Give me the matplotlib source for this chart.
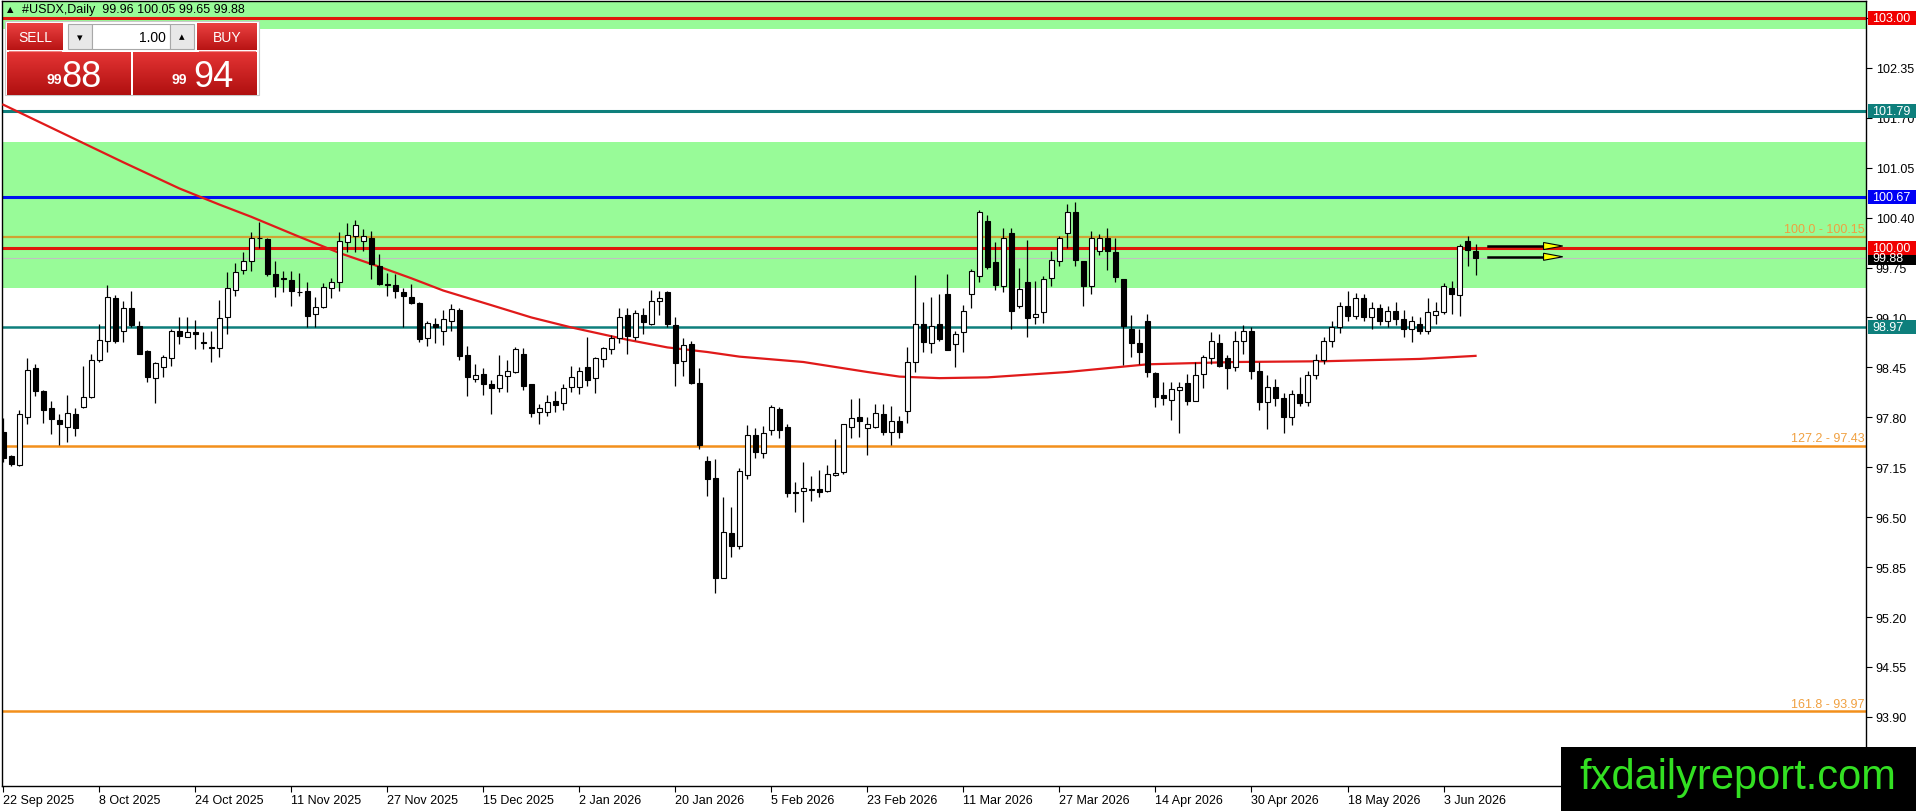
import numpy as np
import matplotlib
matplotlib.use('Agg')
import matplotlib.pyplot as plt
import matplotlib.colors as mcolors
from matplotlib.patches import Rectangle, Polygon

plt.rcParams['font.family'] = ['Liberation Sans', 'DejaVu Sans']

W, H = 1916, 812

# daily candles, first bar = 22 Sep 2025
opens = [97.61, 97.30, 97.18, 97.81, 98.44, 98.14, 97.92, 97.76, 97.68, 97.84,
         97.94, 98.07, 98.54, 98.80, 99.35, 98.92, 99.22, 98.99, 98.66, 98.31,
         98.45, 98.57, 98.92, 98.85, 98.91, 98.78, 98.71, 98.70, 99.10, 99.46,
         99.72, 99.83, 100.13, 100.12, 99.67, 99.61, 99.59, 99.43, 99.44, 99.14,
         99.23, 99.49, 99.56, 100.08, 100.16, 100.10, 100.13, 99.77, 99.53, 99.52,
         99.43, 99.37, 99.29, 98.83, 99.01, 98.93, 99.06, 99.20, 98.61, 98.30,
         98.36, 98.23, 98.18, 98.34, 98.39, 98.62, 98.23, 97.87, 97.87, 98.01,
         97.98, 98.19, 98.20, 98.45, 98.31, 98.56, 98.69, 98.83, 99.13, 98.85,
         99.13, 99.02, 99.32, 99.43, 99.00, 98.53, 98.75, 98.25, 97.23, 97.01,
         95.71, 96.30, 96.12, 97.05, 97.57, 97.34, 97.63, 97.91, 97.67, 96.83,
         96.84, 96.85, 96.87, 96.84, 97.05, 97.09, 97.67, 97.80, 97.66, 97.68,
         97.84, 97.61, 97.75, 97.88, 98.52, 99.01, 98.77, 99.01, 99.41, 98.76,
         98.91, 99.41, 99.64, 100.35, 99.82, 99.51, 100.20, 99.25, 99.56, 99.10,
         99.17, 99.61, 99.84, 100.20, 100.47, 99.84, 99.51, 99.96, 100.13, 99.95,
         99.60, 98.95, 98.77, 99.05, 98.38, 98.09, 98.03, 98.15, 98.25, 98.01,
         98.36, 98.57, 98.77, 98.57, 98.45, 98.80, 98.92, 98.40, 98.00, 98.20,
         98.05, 97.80, 98.10, 98.00, 98.35, 98.55, 98.80, 98.98, 99.25, 99.12,
         99.35, 99.10, 99.22, 99.05, 99.18, 99.08, 98.95, 99.02, 98.93, 99.13,
         99.17, 99.48, 99.39, 100.09, 99.96]
highs = [97.79, 97.31, 97.89, 98.57, 98.49, 98.16, 98.01, 97.84, 98.09, 97.92,
         98.47, 98.62, 99.01, 99.52, 99.39, 99.31, 99.44, 99.05, 98.67, 98.52,
         98.61, 98.95, 99.11, 99.11, 99.07, 98.91, 98.92, 99.33, 99.69, 99.81,
         99.95, 100.21, 100.34, 100.13, 99.83, 99.71, 99.71, 99.68, 99.56, 99.36,
         99.55, 99.62, 100.21, 100.33, 100.37, 100.25, 100.22, 99.92, 99.68, 99.67,
         99.48, 99.54, 99.30, 99.06, 99.09, 99.20, 99.28, 99.22, 98.73, 98.49,
         98.44, 98.28, 98.61, 98.54, 98.71, 98.70, 98.23, 97.97, 98.09, 98.14,
         98.23, 98.47, 98.45, 98.84, 98.59, 98.71, 98.87, 99.22, 99.22, 99.20,
         99.22, 99.46, 99.44, 99.45, 99.10, 98.83, 98.80, 98.44, 97.29, 97.26,
         96.76, 96.63, 97.14, 97.70, 97.66, 97.69, 97.96, 97.93, 97.71, 96.96,
         97.22, 97.03, 97.12, 97.18, 97.52, 97.71, 98.04, 98.05, 97.81, 97.97,
         97.97, 97.95, 97.82, 98.71, 99.65, 99.30, 99.37, 99.41, 99.66, 98.93,
         99.26, 99.73, 100.50, 100.43, 100.08, 100.27, 100.27, 99.75, 100.11, 99.58,
         99.64, 99.97, 100.16, 100.58, 100.60, 99.84, 100.22, 100.19, 100.26, 100.13,
         99.60, 99.13, 98.95, 99.14, 98.39, 98.26, 98.26, 98.26, 98.36, 98.52,
         98.61, 98.91, 98.88, 98.61, 98.92, 99.00, 98.98, 98.52, 98.35, 98.30,
         98.12, 98.15, 98.32, 98.40, 98.62, 98.85, 99.05, 99.30, 99.45, 99.42,
         99.40, 99.30, 99.28, 99.25, 99.30, 99.20, 99.12, 99.10, 99.35, 99.30,
         99.55, 99.58, 100.05, 100.16, 100.05]
lows = [97.22, 97.16, 97.17, 97.71, 98.08, 97.73, 97.58, 97.44, 97.48, 97.56,
        97.92, 98.05, 98.52, 98.65, 98.77, 98.78, 98.98, 98.62, 98.26, 97.99,
        98.33, 98.47, 98.75, 98.84, 98.69, 98.69, 98.52, 98.58, 98.88, 99.38,
        99.67, 99.70, 100.01, 99.64, 99.36, 99.43, 99.25, 99.38, 98.98, 98.98,
        99.22, 99.35, 99.45, 99.95, 99.95, 99.97, 99.60, 99.52, 99.38, 99.35,
        98.98, 99.27, 98.78, 98.73, 98.77, 98.74, 98.92, 98.55, 98.08, 98.26,
        98.09, 97.84, 98.13, 98.13, 98.38, 98.16, 97.81, 97.71, 97.82, 97.87,
        97.90, 98.13, 98.11, 98.21, 98.12, 98.46, 98.63, 98.77, 98.62, 98.81,
        98.89, 99.00, 99.13, 98.97, 98.21, 98.34, 98.23, 97.39, 96.77, 95.51,
        95.71, 95.98, 96.08, 97.00, 97.27, 97.27, 97.57, 97.53, 96.76, 96.57,
        96.44, 96.71, 96.76, 96.83, 97.03, 97.06, 97.53, 97.55, 97.31, 97.66,
        97.57, 97.44, 97.53, 97.73, 98.39, 98.65, 98.64, 98.80, 98.68, 98.45,
        98.65, 99.22, 99.56, 99.73, 99.46, 99.43, 98.95, 99.22, 98.84, 99.02,
        99.03, 99.51, 99.77, 100.01, 99.77, 99.25, 99.41, 99.91, 99.72, 99.56,
        98.48, 98.59, 98.49, 98.32, 97.93, 97.96, 97.77, 97.59, 97.96, 98.01,
        98.18, 98.49, 98.45, 98.17, 98.40, 98.62, 98.30, 97.90, 97.65, 97.95,
        97.60, 97.70, 97.95, 97.95, 98.30, 98.50, 98.72, 98.90, 99.05, 99.08,
        99.05, 98.95, 99.00, 98.98, 99.00, 98.85, 98.78, 98.88, 98.89, 99.02,
        99.14, 99.15, 99.12, 99.77, 99.65]
closes = [97.27, 97.19, 97.84, 98.42, 98.14, 97.90, 97.78, 97.71, 97.85, 97.66,
          98.06, 98.55, 98.81, 99.36, 98.79, 99.22, 99.00, 98.63, 98.32, 98.51,
          98.59, 98.93, 98.86, 98.91, 98.89, 98.77, 98.70, 99.09, 99.48, 99.69,
          99.84, 100.14, 100.13, 99.67, 99.51, 99.60, 99.44, 99.43, 99.12, 99.23,
          99.50, 99.56, 100.09, 100.18, 100.30, 100.16, 99.80, 99.54, 99.52, 99.44,
          99.38, 99.29, 98.82, 99.03, 98.98, 99.08, 99.21, 98.60, 98.32, 98.35,
          98.23, 98.18, 98.35, 98.40, 98.69, 98.21, 97.86, 97.92, 98.00, 97.96,
          98.18, 98.33, 98.40, 98.28, 98.57, 98.70, 98.83, 99.10, 98.86, 99.16,
          99.04, 99.31, 99.35, 99.01, 98.51, 98.74, 98.25, 97.44, 97.00, 95.71,
          96.31, 96.12, 97.10, 97.57, 97.35, 97.60, 97.93, 97.64, 96.81, 96.82,
          96.88, 96.87, 96.83, 97.06, 97.08, 97.71, 97.79, 97.75, 97.71, 97.86,
          97.61, 97.75, 97.61, 98.52, 99.02, 98.78, 98.99, 98.82, 98.68, 98.89,
          99.18, 99.70, 100.47, 99.76, 99.52, 100.14, 99.19, 99.47, 99.09, 99.15,
          99.60, 99.85, 100.13, 100.47, 99.85, 99.51, 100.14, 100.14, 99.96, 99.63,
          98.99, 98.77, 98.65, 98.39, 98.06, 98.05, 98.17, 98.19, 98.01, 98.35,
          98.58, 98.79, 98.47, 98.44, 98.80, 98.92, 98.40, 98.00, 98.20, 98.05,
          97.80, 98.10, 97.98, 98.35, 98.55, 98.80, 98.98, 99.25, 99.12, 99.35,
          99.10, 99.22, 99.05, 99.18, 99.08, 98.95, 99.05, 98.93, 99.17, 99.18,
          99.51, 99.41, 100.03, 99.98, 99.88]

date_labels = ['22 Sep 2025', '8 Oct 2025', '24 Oct 2025', '11 Nov 2025', '27 Nov 2025',
               '15 Dec 2025', '2 Jan 2026', '20 Jan 2026', '5 Feb 2026', '23 Feb 2026',
               '11 Mar 2026', '27 Mar 2026', '14 Apr 2026', '30 Apr 2026', '18 May 2026',
               '3 Jun 2026']
bars_per_label = 12

price_ticks = [93.90, 94.55, 95.20, 95.85, 96.50, 97.15, 97.80, 98.45, 99.10,
               99.75, 100.40, 101.05, 101.70, 102.35, 103.00]

# moving average, read at a few bars
ma_bars = [0, 8, 15, 22, 27, 31, 37, 42, 47, 51, 55, 61, 66, 71, 78, 83, 88, 92,
           100, 108, 112, 117, 123, 133, 143, 154, 165, 177, 184]
ma_vals = [101.87, 101.47, 101.12, 100.78, 100.57, 100.41, 100.15, 99.94, 99.76,
           99.61, 99.45, 99.26, 99.10, 98.97, 98.81, 98.71, 98.65, 98.59, 98.52,
           98.39, 98.33, 98.31, 98.32, 98.39, 98.49, 98.52, 98.53, 98.56, 98.60]

zones = [(99.49, 101.39), (102.85, 103.40)]
hlines = [103.00, 101.79, 100.67, 100.15, 100.00, 99.88, 98.97, 97.43, 93.97]
fib_text = {100.15: '100.0 - 100.15', 97.43: '127.2 - 97.43', 93.97: '161.8 - 93.97'}
tag_levels = [103.00, 101.79, 100.67, 99.88, 100.00, 98.97]
arrow_levels = [100.03, 99.89]
arrow_bars = (185.5, 192.5, 194.9)

RED = '#E0180C'
TEAL = '#0E7F7C'
BLUE = '#0010F0'
line_style = {103.00: (RED, 2.2), 101.79: (TEAL, 2.2), 100.67: (BLUE, 2.2),
              100.15: ('#CFA232', 1.6), 100.00: (RED, 2.2), 99.88: ('#C0C0C0', 0.8),
              98.97: (TEAL, 1.8), 97.43: ('#F3901C', 1.8), 93.97: ('#F3901C', 1.8)}
tag_color = {103.00: '#F00000', 101.79: '#0E7F7C', 100.67: '#0000F5',
             100.00: '#F00000', 99.88: '#000000', 98.97: '#0E7F7C'}

fig = plt.figure(figsize=(W / 100, H / 100), dpi=100)
ax = fig.add_axes([2 / W, 25 / H, 1864 / W, 785 / H])
ax.set_xlim(-0.16, 232.8)
ax.set_ylim(93.00, 103.22)

for lo, hi in zones:
    ax.axhspan(lo, hi, color='#98FB98', lw=0, zorder=0)

for lv in hlines:
    col, lw = line_style[lv]
    ax.axhline(lv, color=col, lw=lw, zorder=1)

for lv, txt in fib_text.items():
    ax.text(232.6, lv + 0.02, txt, color='#F0A040', fontsize=9, ha='right', va='bottom', zorder=2)

ax.plot(ma_bars, ma_vals, color='#E01A1A', lw=1.6, zorder=3)

# candles
x = np.arange(len(opens))
ax.vlines(x, lows, highs, color='black', lw=0.9, zorder=4)
for i in x:
    o, c = opens[i], closes[i]
    up = c >= o
    ax.add_patch(Rectangle((i - 0.31, min(o, c)), 0.62, max(abs(c - o), 0.004),
                           facecolor='white' if up else 'black', edgecolor='black',
                           lw=0.8, zorder=5))

# arrows at the last price
for lv in arrow_levels:
    ax.plot([arrow_bars[0], arrow_bars[1]], [lv, lv], color='black', lw=1.8, zorder=6)
    ax.add_patch(Polygon([[arrow_bars[1], lv + 0.046], [arrow_bars[2], lv],
                          [arrow_bars[1], lv - 0.046]], closed=True,
                         facecolor='#FFFF00', edgecolor='black', lw=0.8, zorder=7))

# axes styling
for sp in ax.spines.values():
    sp.set_color('black')
    sp.set_linewidth(1)
ax.yaxis.tick_right()
ax.set_yticks(price_ticks)
ax.set_yticklabels([f'{v:.2f}' for v in price_ticks])
ax.tick_params(axis='y', direction='out', length=4, width=0.8, pad=3, labelsize=9, colors='black')
ax.set_xticks(range(0, len(date_labels) * bars_per_label, bars_per_label))
ax.set_xticklabels(date_labels, ha='left')
ax.tick_params(axis='x', direction='out', length=4, width=0.8, pad=2, labelsize=9, colors='black')

# coloured price tags on the right scale
ytr = ax.get_yaxis_transform()
for lv in tag_levels:
    ax.add_patch(Rectangle((1.0011, lv - 0.091), 0.0258, 0.182, transform=ytr,
                           facecolor=tag_color[lv], edgecolor='none', clip_on=False, zorder=10))
    ax.text(1.0035, lv, f'{lv:.2f}', transform=ytr, color='white', fontsize=9,
            ha='left', va='center', clip_on=False, zorder=11)

# overlay in pixel coordinates for the trade panel, header and watermark
ov = fig.add_axes([0, 0, 1, 1], zorder=20)
ov.axis('off')
ov.patch.set_alpha(0)


def grad_box(x0, y0, x1, y1, top='#EC4141', bottom='#B81414'):
    c0 = np.array(mcolors.to_rgb(top))
    c1 = np.array(mcolors.to_rgb(bottom))
    t = np.linspace(0, 1, 40)[:, None, None]
    img = c0 + (c1 - c0) * t
    ov.imshow(img, extent=(x0, x1, y1, y0), aspect='auto', origin='upper',
              interpolation='bilinear', zorder=22)


ov.add_patch(Rectangle((5, 22), 254, 74, facecolor='white', edgecolor='#C8C8C8', lw=0.8, zorder=21))
grad_box(7, 24, 63, 51)
grad_box(197, 24, 257, 51)
ov.add_patch(Rectangle((68, 25), 24, 25, facecolor='#E8E8E8', edgecolor='#A8A8A8', lw=0.8, zorder=22))
ov.add_patch(Rectangle((92, 25), 78, 25, facecolor='white', edgecolor='#A8A8A8', lw=0.8, zorder=22))
ov.add_patch(Rectangle((170, 25), 24, 25, facecolor='#E8E8E8', edgecolor='#A8A8A8', lw=0.8, zorder=22))
grad_box(7, 53, 131, 96, top='#E43434', bottom='#B01010')
grad_box(133, 53, 257, 96, top='#E43434', bottom='#B01010')
ov.plot([9, 61], [51.5, 51.5], color='#F08080', lw=0.8, zorder=23)
ov.plot([199, 255], [51.5, 51.5], color='#F08080', lw=0.8, zorder=23)

ov.text(35, 38, 'SELL', color='white', fontsize=10, ha='center', va='center', zorder=24)
ov.text(227, 38, 'BUY', color='white', fontsize=10, ha='center', va='center', zorder=24)
ov.text(166, 38, '1.00', color='black', fontsize=10, ha='right', va='center', zorder=24)
ov.text(80, 38, '\u25BE', color='black', fontsize=8, ha='center', va='center',
        family=['DejaVu Sans'], zorder=24)
ov.text(182, 37, '\u25B4', color='black', fontsize=8, ha='center', va='center',
        family=['DejaVu Sans'], zorder=24)
ov.text(47, 84, '99', color='white', fontsize=10, fontweight='bold', ha='left', va='baseline', zorder=24)
ov.text(61, 87, '88', color='white', fontsize=26, ha='left', va='baseline', zorder=24)
ov.text(172, 84, '99', color='white', fontsize=10, fontweight='bold', ha='left', va='baseline', zorder=24)
ov.text(193, 87, '94', color='white', fontsize=26, ha='left', va='baseline', zorder=24)

ov.text(10, 10, '\u25B2', color='black', fontsize=6, ha='center', va='center',
        family=['DejaVu Sans'], zorder=24)
ov.text(22, 10, '#USDX,Daily  99.96 100.05 99.65 99.88', color='black', fontsize=9,
        ha='left', va='center', zorder=24)

ov.add_patch(Rectangle((1561, 748), 355, 64, facecolor='black', edgecolor='none', zorder=21))
ov.text(1738, 778, 'fxdailyreport.com', color='#33E022', fontsize=30, ha='center', va='center',
        zorder=24)

ov.set_xlim(0, W)
ov.set_ylim(H, 0)

fig.savefig('out.png', dpi=100, facecolor='white')
